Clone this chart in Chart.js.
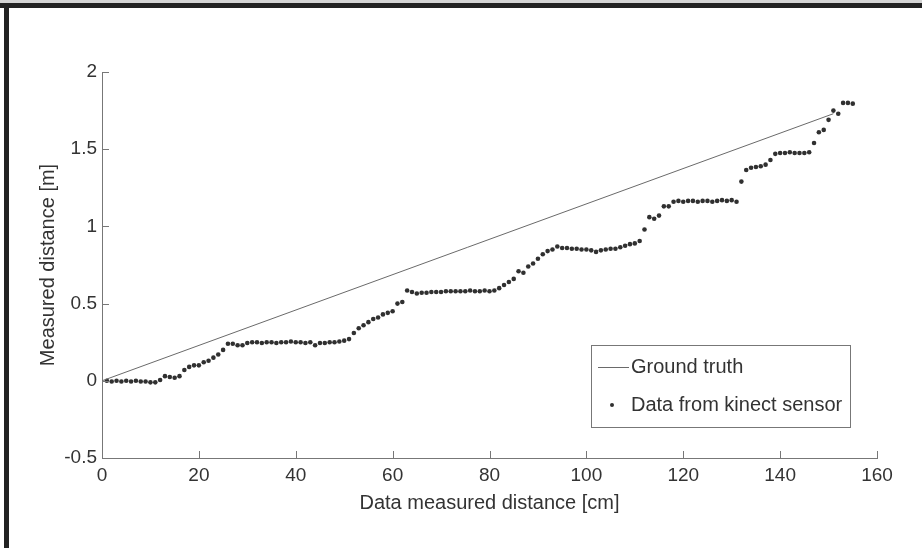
<!DOCTYPE html>
<html>
<head>
<meta charset="utf-8">
<script src="https://cdn.jsdelivr.net/npm/chart.js@4.4.1/dist/chart.umd.min.js"></script>
<style>
  html, body { margin: 0; padding: 0; background: #fff; }
  #wrap { width: 922px; height: 548px; position: relative; }
</style>
</head>
<body>
<div id="wrap"><canvas id="chart" width="922" height="548"></canvas></div>
<script>
// tick labels
const xTicks = [0, 20, 40, 60, 80, 100, 120, 140, 160];
const yTicks = [-0.5, 0, 0.5, 1, 1.5, 2];

// ground truth line (start / end)
const truthX = [0, 151];
const truthY = [0, 1.73];

// kinect measurements, one per cm
const sensorX = [
  1, 2, 3, 4, 5, 6, 7, 8, 9, 10,
  11, 12, 13, 14, 15, 16, 17, 18, 19, 20,
  21, 22, 23, 24, 25, 26, 27, 28, 29, 30,
  31, 32, 33, 34, 35, 36, 37, 38, 39, 40,
  41, 42, 43, 44, 45, 46, 47, 48, 49, 50,
  51, 52, 53, 54, 55, 56, 57, 58, 59, 60,
  61, 62, 63, 64, 65, 66, 67, 68, 69, 70,
  71, 72, 73, 74, 75, 76, 77, 78, 79, 80,
  81, 82, 83, 84, 85, 86, 87, 88, 89, 90,
  91, 92, 93, 94, 95, 96, 97, 98, 99, 100,
  101, 102, 103, 104, 105, 106, 107, 108, 109, 110,
  111, 112, 113, 114, 115, 116, 117, 118, 119, 120,
  121, 122, 123, 124, 125, 126, 127, 128, 129, 130,
  131, 132, 133, 134, 135, 136, 137, 138, 139, 140,
  141, 142, 143, 144, 145, 146, 147, 148, 149, 150,
  151, 152, 153, 154, 155
];
const sensorY = [
  0.00, -0.005, 0.00, -0.005, 0.00, -0.005, 0.00, -0.005, -0.005, -0.01,
  -0.01, 0.005, 0.03, 0.025, 0.02, 0.03, 0.07, 0.09, 0.10, 0.10,
  0.12, 0.13, 0.15, 0.17, 0.20, 0.24, 0.24, 0.23, 0.23, 0.245,
  0.25, 0.25, 0.245, 0.25, 0.25, 0.245, 0.25, 0.25, 0.255, 0.25,
  0.25, 0.245, 0.25, 0.23, 0.245, 0.245, 0.25, 0.25, 0.255, 0.26,
  0.27, 0.31, 0.34, 0.36, 0.38, 0.40, 0.41, 0.43, 0.44, 0.45,
  0.50, 0.51, 0.585, 0.575, 0.565, 0.57, 0.57, 0.575, 0.575, 0.575,
  0.58, 0.58, 0.58, 0.58, 0.58, 0.585, 0.58, 0.58, 0.585, 0.58,
  0.585, 0.60, 0.62, 0.64, 0.66, 0.71, 0.70, 0.74, 0.76, 0.79,
  0.82, 0.84, 0.85, 0.87, 0.86, 0.86, 0.855, 0.855, 0.85, 0.85,
  0.845, 0.835, 0.845, 0.85, 0.855, 0.855, 0.865, 0.875, 0.885, 0.89,
  0.905, 0.98, 1.06, 1.05, 1.07, 1.13, 1.13, 1.16, 1.165, 1.16,
  1.165, 1.165, 1.16, 1.165, 1.165, 1.16, 1.165, 1.17, 1.165, 1.17,
  1.16, 1.29, 1.365, 1.38, 1.385, 1.39, 1.40, 1.43, 1.47, 1.475,
  1.475, 1.48, 1.475, 1.475, 1.475, 1.48, 1.54, 1.61, 1.625, 1.69,
  1.75, 1.73, 1.80, 1.80, 1.795
];

const FONT = 'Liberation Sans, Arial, Helvetica, sans-serif';
const TEXT = '#333';
const AXIS = '#777';
const TICK_LEN = 7;

// frame round the figure, ticks pointing inward, legend box inside the axes
const figurePlugin = {
  id: 'figure',
  beforeDraw(chart) {
    const ctx = chart.ctx;
    ctx.save();
    ctx.fillStyle = '#fff';
    ctx.fillRect(0, 0, chart.width, chart.height);
    ctx.fillStyle = '#d4d4d4';
    ctx.fillRect(0, 0, chart.width, 3);
    ctx.fillStyle = '#222';
    ctx.fillRect(0, 3, chart.width, 5);
    ctx.fillRect(4, 3, 5, chart.height - 3);
    ctx.restore();
  },
  afterDraw(chart) {
    const ctx = chart.ctx;
    const x = chart.scales.x, y = chart.scales.y;
    const area = chart.chartArea;
    ctx.save();
    ctx.strokeStyle = AXIS;
    ctx.lineWidth = 1;
    ctx.beginPath();
    xTicks.forEach(v => {
      const px = Math.round(x.getPixelForValue(v)) + 0.5;
      ctx.moveTo(px, area.bottom);
      ctx.lineTo(px, area.bottom - TICK_LEN);
    });
    yTicks.forEach(v => {
      const py = Math.round(y.getPixelForValue(v)) + 0.5;
      ctx.moveTo(area.left, py);
      ctx.lineTo(area.left + TICK_LEN, py);
    });
    ctx.stroke();

    // legend
    const ds = chart.data.datasets;
    const bx = area.right - 286, by = area.top + 273, bw = 259, bh = 82;
    ctx.fillStyle = '#fff';
    ctx.fillRect(bx, by, bw, bh);
    ctx.strokeStyle = AXIS;
    ctx.strokeRect(bx + 0.5, by + 0.5, bw, bh);

    ctx.font = '20px ' + FONT;
    ctx.fillStyle = TEXT;
    ctx.textBaseline = 'middle';
    ctx.textAlign = 'left';

    const row1 = by + 22, row2 = by + 60;
    ctx.strokeStyle = ds[0].borderColor;
    ctx.beginPath();
    ctx.moveTo(bx + 7, row1 + 0.5);
    ctx.lineTo(bx + 38, row1 + 0.5);
    ctx.stroke();
    ctx.fillText(ds[0].label, bx + 40, row1);

    ctx.fillStyle = ds[1].backgroundColor;
    ctx.beginPath();
    ctx.arc(bx + 21, row2, 2, 0, Math.PI * 2);
    ctx.fill();
    ctx.fillStyle = TEXT;
    ctx.fillText(ds[1].label, bx + 40, row2);
    ctx.restore();
  }
};

const truthData = truthX.map((v, i) => ({ x: v, y: truthY[i] }));
const sensorData = sensorX.map((v, i) => ({ x: v, y: sensorY[i] }));

new Chart(document.getElementById('chart'), {
  type: 'scatter',
  data: {
    datasets: [
      {
        label: 'Ground truth',
        data: truthData,
        showLine: true,
        borderColor: '#6a6a6a',
        borderWidth: 1,
        pointRadius: 0
      },
      {
        label: 'Data from kinect sensor',
        data: sensorData,
        showLine: false,
        pointStyle: 'circle',
        pointRadius: 2.3,
        pointBorderWidth: 0,
        backgroundColor: '#303030',
        borderColor: '#303030'
      }
    ]
  },
  options: {
    responsive: false,
    animation: false,
    devicePixelRatio: 1,
    layout: { padding: { left: 0, top: 72, right: 45, bottom: 0 } },
    plugins: {
      legend: { display: false },
      tooltip: { enabled: false }
    },
    scales: {
      x: {
        type: 'linear',
        min: 0,
        max: 160,
        afterBuildTicks: s => { s.ticks = xTicks.map(v => ({ value: v })); },
        afterFit: s => { s.height = 90; },
        grid: { drawOnChartArea: false, drawTicks: false },
        border: { display: true, color: AXIS, width: 1 },
        ticks: {
          padding: 6, color: TEXT, maxRotation: 0,
          font: { family: FONT, size: 19 },
          callback: v => String(v)
        },
        title: {
          display: true,
          text: 'Data measured distance [cm]',
          color: TEXT,
          font: { family: FONT, size: 20 },
          padding: { top: 0, bottom: 33 }
        }
      },
      y: {
        type: 'linear',
        min: -0.5,
        max: 2,
        afterBuildTicks: s => { s.ticks = yTicks.map(v => ({ value: v })); },
        afterFit: s => { s.width = 102; },
        grid: { drawOnChartArea: false, drawTicks: false },
        border: { display: true, color: AXIS, width: 1 },
        ticks: {
          padding: 5, color: TEXT,
          font: { family: FONT, size: 19 },
          callback: v => String(v)
        },
        title: {
          display: true,
          text: 'Measured distance [m]',
          color: TEXT,
          font: { family: FONT, size: 20 },
          padding: { top: 36, bottom: 0 }
        }
      }
    }
  },
  plugins: [figurePlugin]
});
</script>
</body>
</html>
